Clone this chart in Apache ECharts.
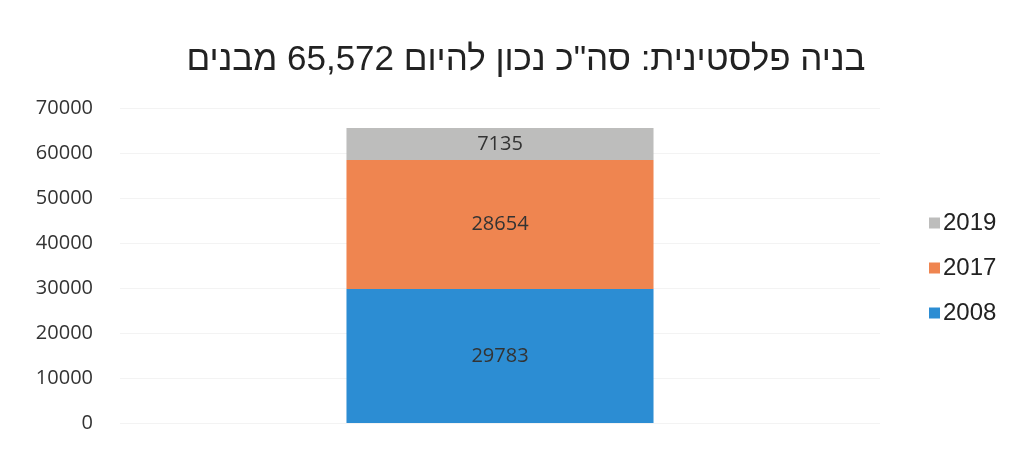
<!DOCTYPE html>
<html><head><meta charset="utf-8">
<script src="https://cdn.jsdelivr.net/npm/echarts@6/dist/echarts.min.js"></script>
<style>html,body{margin:0;padding:0;background:#fff}#c{width:1018px;height:449px}</style>
</head><body><div id="c"></div>
<script>
const categories = ['סה"כ'];
const seriesNames = ['2008', '2017', '2019'];
const values2008 = [29783];
const values2017 = [28654];
const values2019 = [7135];
const yTicks = [0, 10000, 20000, 30000, 40000, 50000, 60000, 70000];
const titleText = 'בניה פלסטינית: סה"כ נכון להיום 65,572 מבנים';

const colors = ['#2c8dd3', '#ef8550', '#bdbdbc'];
const dataSets = [values2008, values2017, values2019];
const chart = echarts.init(document.getElementById('c'), null, {renderer: 'canvas'});
chart.setOption({
  animation: false,
  title: {text: titleText, left: 521, top: 38, textAlign: 'center',
    textStyle: {fontFamily: 'Liberation Sans', fontSize: 35, fontWeight: 'normal', color: '#222'}},
  legend: {orient: 'vertical', left: 924, top: 206, itemWidth: 11, itemHeight: 11, itemGap: 21,
    data: ['2019', '2017', '2008'], icon: 'rect',
    textStyle: {fontFamily: 'Liberation Sans', fontSize: 24, color: '#222', padding: [0, 0, 0, -2]}},
  grid: {left: 120, right: 138, top: 108, bottom: 26},
  xAxis: {type: 'category', data: categories, axisLine: {show: false}, axisTick: {show: false}, axisLabel: {show: false}},
  yAxis: {type: 'value', min: yTicks[0], max: yTicks[yTicks.length - 1], interval: 10000,
    axisLine: {show: false}, axisTick: {show: false},
    splitLine: {lineStyle: {color: '#f3f3f3'}},
    axisLabel: {fontFamily: 'Open Sans', fontSize: 20, color: '#333', margin: 27,
      formatter: v => String(v)}},
  series: seriesNames.map((n, i) => ({
    name: n, type: 'bar', stack: 'total', barWidth: '40.4%', data: dataSets[i],
    itemStyle: {color: colors[i]},
    label: {show: true, position: 'inside', fontFamily: 'Open Sans', fontSize: 20, color: '#333'}
  }))
});
</script></body></html>
